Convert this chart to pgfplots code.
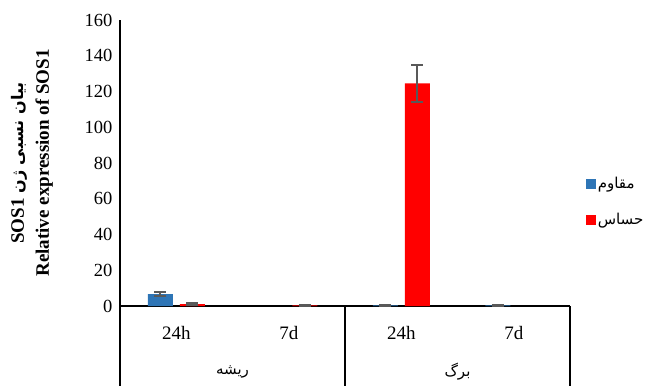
\documentclass[border=0pt]{standalone}
\usepackage{fontspec}
\setmainfont{Liberation Serif}
\newfontfamily\fa[Script=Arabic]{DejaVu Sans}
\TeXXeTstate=1
\usepackage{pgfplots}
\pgfplotsset{compat=1.18}
\definecolor{resist}{HTML}{2E75B6}
\definecolor{sens}{HTML}{FF0000}
\definecolor{errgray}{HTML}{595959}

\pgfplotsset{
  sq legend/.style={legend image code/.code={\path[fill] (0pt,-5pt) rectangle (10pt,5pt);}},
}

\begin{document}
\begin{tikzpicture}
\begin{axis}[
  width=450pt, height=286pt, scale only axis,
  xmin=-0.5, xmax=3.5, ymin=0, ymax=160,
  ytick={0,20,...,160},
  xtick={0,1,2,3}, xticklabels={24h,7d,24h,7d},
  major tick length=0pt,
  axis lines*=left,
  axis line style={black, line width=1.2pt},
  ybar=7pt, bar width=25pt,
  /pgf/number format/assume math mode=true,
  yticklabel style={font=\fontsize{18.5}{20}\selectfont, xshift=-4pt},
  xticklabel style={font=\fontsize{19}{21}\selectfont, anchor=center, yshift=-27pt},
  clip=false,
  legend style={draw=none, fill=none, at={(1.028,0.365)}, anchor=west,
    font=\fa\fontsize{15}{17}\selectfont, row sep=19pt,
    /tikz/every even column/.append style={column sep=2pt}},
  legend cell align=left,
  error bars/y dir=both, error bars/y explicit,
  error bars/error bar style={errgray, line width=2.2pt},
  error bars/error mark options={rotate=90, errgray, mark size=6pt, line width=2.2pt},
]
% resistant genotype
\addplot[fill=resist, draw=none, sq legend]
  coordinates {(0,6.7) +- (0,1.1) (2,0.3) +- (0,0.3) (3,0.3) +- (0,0.3)};
\addlegendentry{\beginR مقاوم\endR}
% sensitive genotype
\addplot[fill=sens, draw=none, sq legend]
  coordinates {(0,1.0) +- (0,0.4) (1,0.3) +- (0,0.3) (2,124.5) +- (0,10.5)};
\addlegendentry{\beginR حساس\endR}

% tissue group frame below the axis
\draw[black, line width=1.2pt] (axis cs:-0.5,0) -- ([yshift=-80pt]axis cs:-0.5,0);
\draw[black, line width=1.2pt] (axis cs:1.5,0) -- ([yshift=-80pt]axis cs:1.5,0);
\draw[black, line width=1.2pt] (axis cs:3.5,0) -- ([yshift=-80pt]axis cs:3.5,0);
\node[font=\fa\fontsize{15}{17}\selectfont] at ([yshift=-66pt]axis cs:0.5,0) {\beginR ریشه\endR};
\node[font=\fa\fontsize{15}{17}\selectfont] at ([yshift=-66pt]axis cs:2.5,0) {\beginR برگ\endR};
\end{axis}

\node[rotate=90, align=center, font=\bfseries\fontsize{19}{25}\selectfont]
  at (-88pt,143pt) {SOS1 {\fa\bfseries\fontsize{16}{25}\selectfont\beginR بیان نسبی ژن\endR}\\Relative expression of SOS1};

\pgfresetboundingbox
\path (-120pt,-79pt) rectangle (548pt,306pt);
\end{tikzpicture}
\end{document}
